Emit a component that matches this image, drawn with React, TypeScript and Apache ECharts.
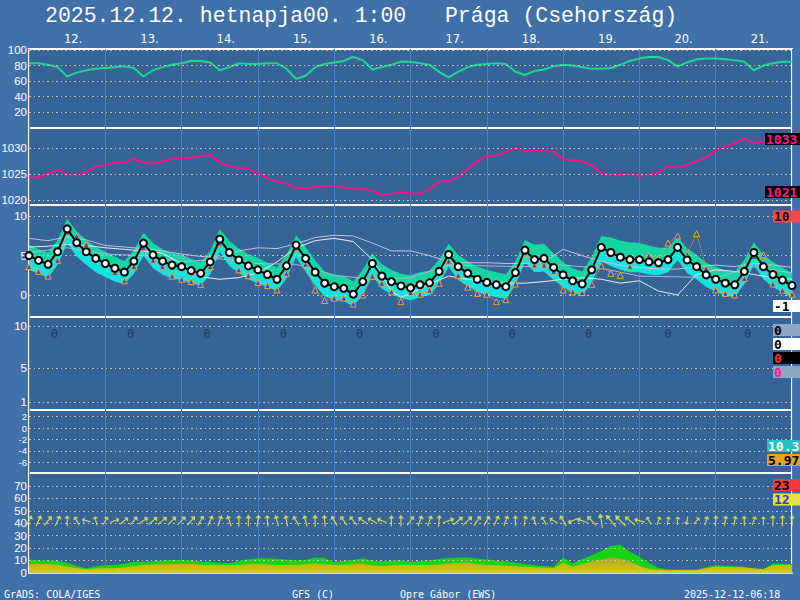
import React, { useEffect, useRef } from "react";
import * as echarts from "echarts";

// ---------- time axis (hours from 2025-12-12 00:00, 3-hourly) ----------
const HOURS: number[] = Array.from({ length: 81 }, (_, i) => i * 3);
const DAY_LABELS = ["12.", "13.", "14.", "15.", "16.", "17.", "18.", "19.", "20.", "21."];

// ---------- tick labels ----------
const HUM_TICKS = [20, 40, 60, 80, 100];
const PRES_TICKS = [1020, 1025, 1030];
const TEMP_TICKS = [0, 5, 10];
const PREC_TICKS = [1, 5, 10];
const LI_TICKS = [-6, -4, -2, 0, 2];
const WIND_TICKS = [0, 10, 20, 30, 40, 50, 60, 70];

// ---------- relative humidity (%) ----------
const HUMIDITY = [
  83, 83, 81, 78, 66, 71, 74, 76, 77, 78,
  79, 77, 66, 74, 78, 81, 83, 86, 86, 84,
  74, 78, 83, 82, 82, 83, 83, 76, 63, 67,
  78, 82, 84, 86, 91, 87, 75, 78, 81, 85,
  85, 83, 81, 72, 65, 72, 78, 81, 82, 83,
  82, 72, 68, 73, 75, 79, 81, 80, 78, 76,
  76, 77, 81, 86, 89, 91, 91, 87, 79, 84,
  88, 89, 89, 88, 87, 85, 74, 80, 83, 85,
  85,
];

// ---------- sea level pressure (hPa) ----------
const PRESSURE = [
  1024.4, 1024.4, 1025.1, 1025.9, 1024.9, 1024.8, 1025.4, 1026.5, 1026.8, 1027.2,
  1027.2, 1028.0, 1027.3, 1027.0, 1027.5, 1028.0, 1028.2, 1028.2, 1028.5, 1028.7,
  1027.3, 1026.6, 1026.2, 1026.1, 1025.2, 1024.2, 1023.6, 1023.2, 1022.3, 1022.3,
  1022.5, 1022.7, 1022.8, 1022.4, 1022.2, 1022.2, 1021.8, 1021.0, 1021.2, 1021.6,
  1021.3, 1021.3, 1022.1, 1023.6, 1023.7, 1024.5, 1026.0, 1027.5, 1028.5, 1028.6,
  1029.3, 1030.1, 1029.5, 1029.5, 1029.5, 1029.4, 1027.9, 1027.7, 1027.4, 1026.8,
  1025.2, 1025.0, 1024.8, 1025.0, 1024.7, 1024.9, 1025.3, 1026.6, 1026.3, 1026.8,
  1027.5, 1028.2, 1029.6, 1030.3, 1031.0, 1031.8, 1031.0, 1031.3, 1031.7, 1032.2,
  1032.7,
];

// ---------- 2 m temperature (°C) ----------
const TEMP_MAIN = [
  5.0, 4.4, 3.9, 5.5, 8.4, 6.65, 5.5, 4.65, 4.0, 3.4,
  2.9, 4.3, 6.6, 5.1, 4.3, 3.8, 3.6, 3.1, 2.75, 4.2,
  7.1, 5.4, 4.45, 3.7, 3.2, 2.6, 2.0, 3.7, 6.35, 4.65,
  2.9, 1.5, 1.05, 0.85, 0.1, 1.7, 4.0, 2.4, 1.7, 1.15,
  0.9, 1.3, 1.55, 3.0, 5.15, 3.6, 2.75, 2.0, 1.6, 1.3,
  1.05, 2.85, 5.7, 4.5, 4.65, 3.5, 2.55, 1.8, 1.4, 3.2,
  6.05, 5.4, 4.8, 4.5, 4.5, 4.2, 4.1, 4.5, 6.05, 4.45,
  3.6, 2.55, 2.0, 1.5, 1.3, 3.0, 5.4, 3.6, 2.6, 1.9,
  1.2,
];
const TEMP_BAND_HIGH = [
  6.4, 5.8, 5.4, 7.0, 9.7, 8.1, 7.0, 6.1, 5.5, 4.9,
  4.3, 5.7, 7.9, 6.6, 5.8, 5.3, 5.1, 4.6, 4.2, 5.6,
  8.4, 6.9, 5.9, 5.2, 4.7, 4.1, 3.5, 5.1, 7.6, 6.1,
  4.4, 3.0, 2.6, 2.4, 1.7, 3.2, 5.3, 3.9, 3.2, 2.7,
  2.5, 2.9, 3.1, 4.5, 6.5, 5.1, 4.3, 3.6, 3.2, 2.9,
  2.6, 4.3, 7.0, 6.4, 6.5, 5.3, 4.2, 3.4, 3.0, 4.8,
  7.5, 7.3, 6.9, 6.7, 6.6, 6.3, 6.0, 6.0, 7.4, 5.9,
  5.1, 4.1, 3.6, 3.1, 2.9, 4.5, 6.7, 5.1, 4.2, 3.5,
  2.8,
];
const TEMP_BAND_LOW = [
  3.2, 2.7, 2.2, 3.8, 6.6, 4.9, 3.8, 2.9, 2.3, 1.7,
  1.4, 2.7, 5.0, 3.4, 2.6, 2.1, 1.9, 1.5, 1.2, 2.6,
  5.5, 3.7, 2.8, 2.0, 1.5, 1.0, 0.5, 2.1, 4.8, 3.0,
  1.2, -0.2, -0.6, -0.8, -1.4, 0.0, 2.5, 0.8, 0.1, -0.4,
  -0.7, -0.3, 0.0, 1.4, 3.6, 1.9, 1.1, 0.4, 0.0, -0.3,
  -0.5, 1.3, 4.2, 2.9, 3.0, 1.9, 1.0, 0.3, -0.1, 1.6,
  4.3, 3.7, 3.2, 2.9, 2.9, 2.6, 2.5, 2.9, 4.4, 2.8,
  2.0, 1.0, 0.4, -0.1, -0.3, 1.4, 3.8, 2.0, 1.0, 0.3,
  -0.4,
];
const TEMP_ALT = [
  3.6, 3.0, 2.4, 4.4, 8.0, 7.5, 6.4, 4.6, 3.9, 2.85,
  1.8, 3.6, 6.0, 4.4, 3.6, 2.4, 2.0, 1.7, 1.35, 3.6,
  6.6, 5.4, 3.2, 2.45, 1.6, 1.2, 0.65, 2.75, 6.0, 3.9,
  0.65, -0.7, -0.4, -0.4, -1.15, 0.0, 2.4, 1.5, 0.4, -0.85,
  0.3, 0.1, 0.6, 1.5, 4.3, 2.5, 1.0, 0.2, 0.1, -0.85,
  -0.6, 1.4, 5.3, 3.8, 3.8, 3.0, 0.65, 0.4, 0.3, 1.35,
  3.7, 2.75, 2.5, 3.6, 4.65, 5.0, 4.6, 6.6, 7.5, 5.2,
  7.8, 3.4, 0.65, 0.2, 0.0, 2.1, 4.9, 5.1, 1.4, 0.6,
  0.1,
];
// thin reference curves: [hour, °C]
const TEMP_THIN_A: [number, number][] = [
  [0, 7.2], [6, 6.9], [12, 7.4], [18, 7.0], [24, 6.3], [30, 6.1], [36, 5.9], [42, 5.6], [48, 5.2], [54, 4.9],
  [60, 4.8], [66, 5.6], [72, 6.0], [78, 5.9], [84, 6.5], [90, 7.3], [96, 7.6], [102, 7.5], [108, 6.6], [114, 5.6],
  [120, 5.6], [126, 5.0], [132, 4.2], [138, 4.1], [144, 4.1], [150, 4.0], [156, 4.0], [162, 4.2], [168, 5.8], [174, 5.0],
  [180, 4.3], [186, 3.8], [192, 3.5], [198, 3.3], [204, 3.3], [210, 3.6], [216, 3.8], [222, 3.6], [228, 4.0], [234, 3.8],
  [240, 3.5],
];
const TEMP_THIN_B: [number, number][] = [
  [0, 6.1], [6, 6.2], [12, 6.4], [18, 6.3], [24, 6.0], [30, 5.8], [36, 5.6], [42, 5.3], [48, 4.0], [54, 2.3],
  [60, 2.0], [66, 2.2], [72, 2.8], [78, 4.2], [84, 6.0], [90, 6.9], [96, 7.2], [102, 6.8], [108, 4.5], [114, 0.5],
  [117, -0.3], [120, 0.2], [126, 1.4], [132, 2.4], [138, 2.0], [144, 1.7], [150, 1.5], [156, 1.5], [162, 1.7], [168, 2.0],
  [174, 2.2], [180, 2.0], [186, 1.5], [192, 1.8], [198, 0.5], [204, 0.0], [210, 2.6], [216, 3.2], [222, 3.0], [228, 2.6],
  [234, 2.2], [240, 2.0],
];
const TEMP_THIN_C: [number, number][] = [
  [0, 5.4], [12, 6.0], [24, 5.2], [36, 5.0], [48, 4.2], [60, 4.6], [72, 4.0], [84, 3.9], [96, 2.5], [108, 2.0],
  [120, 2.2], [132, 3.8], [144, 3.7], [156, 3.6], [168, 3.8], [180, 3.4], [192, 2.4], [204, 2.3], [216, 2.2], [228, 3.6],
  [240, 2.8],
];

// ---------- precipitation ----------
const PRECIP_DAY_HOURS = [8, 32, 56, 80, 104, 128, 152, 176, 201, 226];
const PRECIP_DAILY = [0, 0, 0, 0, 0, 0, 0, 0, 0, 0];
const PRECIP_SUMMARY = [0, 0, 0, 0];

// ---------- stability panel summary ----------
const STABILITY_SUMMARY = ["10.34", "5.972"];

// ---------- wind (km/h) ----------
const WIND_GUST = [
  10.8, 9.9, 9.9, 9.6, 8.1, 5.4, 3.5, 5.2, 6.0, 6.5,
  7.3, 8.9, 8.9, 9.2, 9.9, 10.2, 10.2, 9.8, 9.0, 8.6,
  8.1, 7.6, 9.5, 10.9, 11.6, 11.6, 11.2, 10.7, 10.0, 10.5,
  12.2, 11.8, 8.9, 9.4, 10.4, 11.6, 9.9, 9.2, 9.6, 10.1,
  8.9, 9.5, 10.1, 11.0, 11.8, 12.2, 12.3, 11.5, 10.8, 9.7,
  9.2, 8.1, 7.0, 6.0, 5.5, 4.9, 12.4, 7.5, 10.8, 14.0,
  17.5, 21.5, 22.6, 17.0, 12.8, 8.0, 4.0, 2.6, 2.4, 2.3,
  2.4, 4.5, 6.1, 5.6, 5.2, 4.8, 3.6, 2.7, 7.5, 7.2,
  7.0,
];
const WIND_SPEED = [
  7.0, 7.0, 7.0, 6.5, 4.9, 3.8, 2.7, 3.3, 3.5, 3.6,
  4.5, 5.3, 6.4, 6.7, 6.9, 7.0, 7.0, 7.0, 6.4, 6.2,
  6.2, 6.2, 6.3, 6.8, 7.0, 6.6, 6.2, 6.2, 6.2, 6.8,
  7.4, 6.8, 6.2, 6.5, 6.9, 7.0, 5.8, 5.4, 5.8, 6.2,
  6.2, 6.2, 6.2, 6.6, 7.3, 8.0, 8.1, 7.0, 6.2, 6.0,
  5.6, 5.3, 4.9, 4.5, 4.0, 3.5, 8.1, 4.9, 7.0, 9.0,
  10.5, 12.4, 11.6, 8.9, 5.6, 3.0, 2.4, 2.2, 2.2, 2.2,
  2.2, 3.5, 4.9, 4.7, 4.4, 4.2, 3.4, 2.7, 6.2, 6.2,
  6.2,
];
// direction the arrow points, degrees clockwise from north
const WIND_DIR = [
  30, 25, 40, 25, 0, -30, -75, -15, 30, 70,
  50, 40, 55, 50, 50, 45, 45, 40, 30, 25,
  20, -20, 0, 0, 10, -5, -15, -10, -30, -15,
  0, -5, -30, -35, -40, -55, -60, -70, 0, 0,
  35, 20, 20, 5, 70, 50, 45, 35, 30, 25,
  20, 0, 10, -20, -30, -60, -30, -115, -70, -45,
  -10, -40, -45, -50, -75, -30, 20, 10, 5, -170,
  40, 15, 5, 10, 10, 0, 20, 0, 0, 0,
  0,
];

// ---------- styling / layout ----------
const PAGE_BG = "#4070a8";
const PLOT_BG = "#366496";
const DAY_LINE = "#4b7fc6";
const GRID_DOT = "#c9c3b5";
const PRECIP_LABEL_LEVEL = 9.1;
const WIND_ARROW_LEVEL = 42;
const ARROW_PATH = "path://M5,0L10,7L6,7L6,24L4,24L4,7L0,7Z";

const PANELS = [
  { top: 49, height: 78.9, min: 0, max: 101.3, ticks: HUM_TICKS, fs: 11.5 },
  { top: 128, height: 77, min: 1019.1, max: 1033.9, ticks: PRES_TICKS, fs: 11.5 },
  { top: 205, height: 112, min: -2.8, max: 11.44, ticks: TEMP_TICKS, fs: 11.5 },
  { top: 317, height: 93, min: 0.09, max: 11.06, ticks: PREC_TICKS, fs: 11.5 },
  { top: 410, height: 63, min: -7.88, max: 3.18, ticks: LI_TICKS, fs: 9.5 },
  { top: 473, height: 99.7, min: 0, max: 80.5, ticks: WIND_TICKS, fs: 11.5 },
];

const pairs = (arr: number[]) => HOURS.map((h, i) => [h, arr[i]]);

function buildOption(): any {
  const grid = PANELS.map((p) => ({
    left: 29,
    right: 8,
    top: p.top,
    height: p.height,
    show: true,
    backgroundColor: PLOT_BG,
    borderColor: "#ffffff",
    borderWidth: 2,
    containLabel: false,
    outerBoundsMode: "none",
  }));

  const xAxis: any[] = PANELS.map((_, i) => ({
    type: "value",
    gridIndex: i,
    min: 0,
    max: 240,
    interval: 24,
    axisLine: { show: false },
    axisTick: { show: false },
    axisLabel: { show: false },
    splitLine: { show: true, lineStyle: { color: DAY_LINE, width: 1 } },
  }));
  // index 6: day labels on top
  xAxis.push({
    type: "category",
    gridIndex: 0,
    position: "top",
    data: DAY_LABELS,
    boundaryGap: true,
    axisLine: { show: false },
    axisTick: { show: false },
    splitLine: { show: false },
    axisLabel: {
      color: "#ffffff",
      fontSize: 11.5,
      fontFamily: "DejaVu Sans",
      margin: 4,
      padding: [0, 0, 0, 12],
    },
  });
  // index 7: hidden category time axis for the stacked temperature band
  xAxis.push({
    type: "category",
    gridIndex: 2,
    data: HOURS.map(String),
    boundaryGap: false,
    show: false,
    axisLine: { show: false },
    axisTick: { show: false },
    axisLabel: { show: false },
    splitLine: { show: false },
  });

  const yAxis = PANELS.map((p, i) => ({
    type: "value",
    gridIndex: i,
    min: p.min,
    max: p.max,
    splitLine: { show: false },
    axisLine: { show: false },
    axisTick: { show: false },
    axisLabel: {
      color: "#ffffff",
      fontSize: p.fs,
      lineHeight: p.fs - 1,
      fontFamily: "Liberation Sans",
      margin: 2,
      customValues: p.ticks,
      interval: 0,
      showMinLabel: true,
      showMaxLabel: true,
      hideOverlap: false,
      formatter: (v: number) => String(v),
    },
  }));

  const series: any[] = [];

  // dotted reference lines for each panel
  PANELS.forEach((p, i) => {
    series.push({
      type: "line",
      xAxisIndex: i,
      yAxisIndex: i,
      data: [],
      z: 1,
      silent: true,
      markLine: {
        silent: true,
        symbol: ["none", "none"],
        label: { show: false },
        lineStyle: { color: GRID_DOT, width: 1, type: [2, 3, 1, 3] },
        data: p.ticks.map((v) => ({ yAxis: v })),
      },
    });
  });

  // humidity
  series.push({
    type: "line",
    xAxisIndex: 0,
    yAxisIndex: 0,
    data: pairs(HUMIDITY),
    showSymbol: false,
    lineStyle: { color: "#20d690", width: 2 },
    z: 3,
  });

  // pressure
  series.push({
    type: "line",
    xAxisIndex: 1,
    yAxisIndex: 1,
    data: pairs(PRESSURE),
    showSymbol: false,
    lineStyle: { color: "#f5128c", width: 2 },
    z: 3,
  });

  // temperature ensemble band (stacked on the hidden category axis)
  series.push({
    type: "line",
    xAxisIndex: 7,
    yAxisIndex: 2,
    stack: "tband",
    stackStrategy: "all",
    data: TEMP_BAND_LOW,
    showSymbol: false,
    lineStyle: { opacity: 0 },
    z: 2,
  });
  series.push({
    type: "line",
    xAxisIndex: 7,
    yAxisIndex: 2,
    stack: "tband",
    stackStrategy: "all",
    data: TEMP_MAIN.map((v, i) => v - TEMP_BAND_LOW[i]),
    showSymbol: false,
    lineStyle: { opacity: 0 },
    areaStyle: { color: "#12e3df", opacity: 1 },
    z: 2,
  });
  series.push({
    type: "line",
    xAxisIndex: 7,
    yAxisIndex: 2,
    stack: "tband",
    stackStrategy: "all",
    data: TEMP_BAND_HIGH.map((v, i) => v - TEMP_MAIN[i]),
    showSymbol: false,
    lineStyle: { opacity: 0 },
    areaStyle: { color: "#14d6a2", opacity: 1 },
    z: 2,
  });

  // thin reference temperature curves
  [
    { d: TEMP_THIN_A, c: "#c9bde0" },
    { d: TEMP_THIN_B, c: "#e6ecf6" },
    { d: TEMP_THIN_C, c: "#a9b7d6" },
  ].forEach((t) =>
    series.push({
      type: "line",
      xAxisIndex: 2,
      yAxisIndex: 2,
      data: t.d,
      showSymbol: false,
      lineStyle: { color: t.c, width: 1 },
      z: 3,
    })
  );

  // alternative model (orange dotted with triangles)
  series.push({
    type: "line",
    xAxisIndex: 2,
    yAxisIndex: 2,
    data: pairs(TEMP_ALT),
    symbol: "triangle",
    symbolSize: 6,
    showSymbol: true,
    itemStyle: { color: "#2b4fd6", borderColor: "#f2a52a", borderWidth: 1 },
    lineStyle: { color: "#f2a52a", width: 1, type: "dotted" },
    z: 4,
  });

  // main temperature
  series.push({
    type: "line",
    xAxisIndex: 2,
    yAxisIndex: 2,
    data: pairs(TEMP_MAIN),
    symbol: "circle",
    symbolSize: 7,
    showSymbol: true,
    itemStyle: { color: "#ffffff", borderColor: "#000000", borderWidth: 2 },
    lineStyle: { color: "#000000", width: 2 },
    z: 5,
  });

  // precipitation daily totals
  series.push({
    type: "scatter",
    xAxisIndex: 3,
    yAxisIndex: 3,
    data: PRECIP_DAY_HOURS.map((h, i) => [h, PRECIP_LABEL_LEVEL, PRECIP_DAILY[i]]),
    symbolSize: 1,
    itemStyle: { color: "rgba(0,0,0,0)" },
    label: {
      show: true,
      position: "inside",
      formatter: (p: any) => String(p.value[2]),
      color: "#1b2a55",
      fontSize: 12,
      fontFamily: "DejaVu Sans Mono",
    },
    z: 3,
  });

  // wind gust and wind speed
  series.push({
    type: "line",
    xAxisIndex: 5,
    yAxisIndex: 5,
    data: pairs(WIND_GUST),
    showSymbol: false,
    lineStyle: { width: 0, opacity: 0 },
    areaStyle: { color: "#14d414", opacity: 1 },
    z: 2,
  });
  series.push({
    type: "line",
    xAxisIndex: 5,
    yAxisIndex: 5,
    data: pairs(WIND_SPEED),
    showSymbol: false,
    lineStyle: { width: 0, opacity: 0 },
    areaStyle: {
      opacity: 1,
      color: new echarts.graphic.LinearGradient(0, 0, 0, 1, [
        { offset: 0, color: "#aea22a" },
        { offset: 1, color: "#d8cc08" },
      ]),
    },
    z: 3,
  });
  series.push({
    type: "scatter",
    xAxisIndex: 5,
    yAxisIndex: 5,
    data: HOURS.map((h, i) => [h, WIND_ARROW_LEVEL, WIND_DIR[i], WIND_SPEED[i]]),
    symbol: ARROW_PATH,
    symbolSize: (v: number[]) => [6, 7 + v[3] * 0.7],
    symbolRotate: (v: number[]) => -v[2],
    itemStyle: { color: "#f4f048" },
    z: 4,
  });

  // ---------- right-hand summary boxes ----------
  const pMax = Math.round(Math.max(...PRESSURE));
  const pMin = Math.round(Math.min(...PRESSURE));
  const tMax = Math.round(Math.max(...TEMP_BAND_HIGH));
  const tMin = Math.round(Math.min(...TEMP_ALT));
  const gMax = Math.round(Math.max(...WIND_GUST));
  const wMax = Math.round(Math.max(...WIND_SPEED));

  const boxes = [
    { t: String(pMax), x: 765, y: 139, bg: "#000000", c: "#ff1493" },
    { t: String(pMin), x: 765, y: 192, bg: "#000000", c: "#ff1493" },
    { t: String(tMax), x: 773, y: 216.5, bg: "#f24a4a", c: "#111111" },
    { t: String(tMin), x: 773, y: 306, bg: "#ffffff", c: "#000000" },
    { t: String(PRECIP_SUMMARY[0]), x: 773, y: 330, bg: "#8ea6c6", c: "#000000" },
    { t: String(PRECIP_SUMMARY[1]), x: 773, y: 344, bg: "#ffffff", c: "#000000" },
    { t: String(PRECIP_SUMMARY[2]), x: 773, y: 358, bg: "#000000", c: "#ff3030" },
    { t: String(PRECIP_SUMMARY[3]), x: 773, y: 372, bg: "#8ea6c6", c: "#ff1493" },
    { t: STABILITY_SUMMARY[0], x: 767, y: 446, bg: "#22bfc4", c: "#ffffff" },
    { t: STABILITY_SUMMARY[1], x: 767, y: 460, bg: "#e3a52a", c: "#000000" },
    { t: String(gMax), x: 773, y: 485, bg: "#f23b3b", c: "#000000" },
    { t: String(wMax), x: 773, y: 499.5, bg: "#e8e03c", c: "#1f3fe0" },
  ];

  const graphic: any[] = [
    {
      type: "text",
      x: 45,
      y: 16,
      silent: true,
      style: {
        text: "2025.12.12. hetnapja00. 1:00   Prága (Csehország)",
        fill: "#ffffff",
        fontSize: 21.5,
        fontFamily: "Liberation Mono",
        verticalAlign: "middle",
      },
    },
    ...[
      { t: "GrADS: COLA/IGES", x: 4 },
      { t: "GFS (C)", x: 292 },
      { t: "Opre Gábor (EWS)", x: 400 },
      { t: "2025-12-12-06:18", x: 684 },
    ].map((b) => ({
      type: "text",
      x: b.x,
      y: 594,
      silent: true,
      style: {
        text: b.t,
        fill: "#ffffff",
        fontSize: 10,
        fontFamily: "DejaVu Sans Mono",
        verticalAlign: "middle",
      },
    })),
    ...boxes.map((b) => ({
      type: "text",
      x: b.x,
      y: b.y,
      z: 100,
      silent: true,
      style: {
        text: b.t,
        fill: b.c,
        fontSize: 13,
        fontWeight: "bold",
        fontFamily: "DejaVu Sans Mono",
        verticalAlign: "middle",
        backgroundColor: b.bg,
        padding: [0, 30, 0, 1],
        lineHeight: 12,
      },
    })),
  ];

  return {
    animation: false,
    backgroundColor: PAGE_BG,
    grid,
    xAxis,
    yAxis,
    series,
    graphic,
  };
}

export default function App() {
  const ref = useRef<HTMLDivElement>(null);
  useEffect(() => {
    if (!ref.current) return;
    const chart = echarts.init(ref.current, null, { renderer: "svg" });
    chart.setOption(buildOption());
    return () => chart.dispose();
  }, []);
  return (
    <div
      ref={ref}
      style={{ position: "absolute", left: 0, top: 0, width: 800, height: 600 }}
    />
  );
}
